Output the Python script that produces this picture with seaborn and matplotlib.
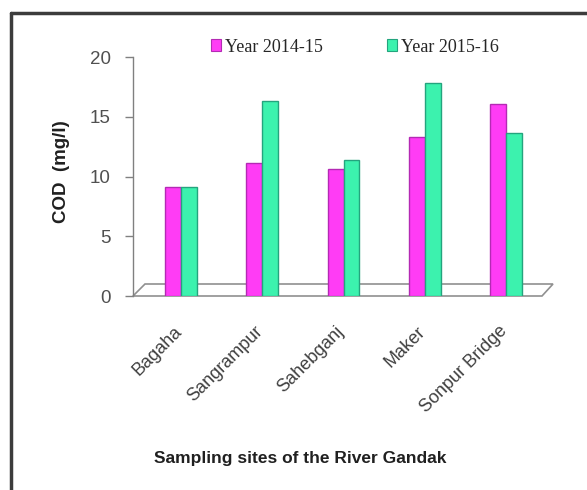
import matplotlib
matplotlib.use("Agg")
import matplotlib.pyplot as plt
import matplotlib.transforms as mtransforms
import seaborn as sns
import pandas as pd
from matplotlib.patches import Polygon
from matplotlib.lines import Line2D

sites = ["Bagaha", "Sangrampur", "Sahebganj", "Maker", "Sonpur Bridge"]
year_2014_15 = [9.1, 11.1, 10.6, 13.3, 16.1]
year_2015_16 = [9.1, 16.3, 11.4, 17.8, 13.6]
series_names = ["Year 2014-15", "Year 2015-16"]
y_ticks = [0, 5, 10, 15, 20]

df = pd.DataFrame({
    "site": sites * 2,
    "series": [series_names[0]] * len(sites) + [series_names[1]] * len(sites),
    "cod": year_2014_15 + year_2015_16,
})

sns.set_theme(style="white")
plt.rcParams["font.family"] = ["Liberation Sans", "DejaVu Sans"]

W, H = 587, 490
fig = plt.figure(figsize=(W / 100, H / 100), dpi=100)
ax_left, ax_right, ax_top, ax_bot = 133, 542, 57, 296
ax = fig.add_axes([ax_left / W, 1 - ax_bot / H, (ax_right - ax_left) / W, (ax_bot - ax_top) / H])

fills = {series_names[0]: "#FF3CF5", series_names[1]: "#3CF2AE"}
edges = {series_names[0]: "#B42AB4", series_names[1]: "#24A47E"}

sns.barplot(data=df, x="site", y="cod", hue="series", order=sites,
            hue_order=series_names, palette=fills, width=0.39, gap=0.0,
            saturation=1, ax=ax, legend=False, linewidth=1.0)

for i, cont in enumerate(ax.containers):
    for p in cont:
        p.set_edgecolor(edges[series_names[i]])
        p.set_linewidth(1.0)

ax.set_xlim(-0.59, 4.44)
ax.set_ylim(0, 20)
ax.set_yticks(y_ticks)
ax.set_yticklabels([str(t) for t in y_ticks], fontsize=13.5, color="#505050")
ax.tick_params(axis="y", direction="out", length=6, width=1, color="#808080", pad=10, left=True)
ax.tick_params(axis="x", length=0, pad=10)

for s in ["top", "right", "bottom"]:
    ax.spines[s].set_visible(False)
ax.spines["left"].set_color("#808080")
ax.spines["left"].set_linewidth(1.0)

# 3-D style floor
px = lambda x, y: ((x - ax_left) / (ax_right - ax_left), (ax_bot - y) / (ax_bot - ax_top))
floor = Polygon([px(133, 296), px(542, 296), px(553, 284), px(145, 284)], closed=True,
                facecolor="none", edgecolor="#909090", linewidth=1.2,
                transform=ax.transAxes, clip_on=False, zorder=0.5)
ax.add_patch(floor)

offset = mtransforms.ScaledTranslation(-8 / 100, -13 / 100, fig.dpi_scale_trans)
for lab in ax.get_xticklabels():
    lab.set_rotation(45)
    lab.set_ha("right")
    lab.set_rotation_mode("anchor")
    lab.set_fontsize(13)
    lab.set_color("#404040")
    lab.set_transform(lab.get_transform() + offset)

ax.set_xlabel("Sampling sites of the River Gandak", fontsize=12.5, fontweight="bold", color="#202020")
ax.xaxis.set_label_coords((300 - ax_left) / (ax_right - ax_left), (ax_bot - 451) / (ax_bot - ax_top))
ax.set_ylabel("COD  (mg/l)", fontsize=13.5, fontweight="bold", color="#202020")
ax.yaxis.set_label_coords((70 - ax_left) / (ax_right - ax_left), 0.52)

handles = [plt.Rectangle((0, 0), 1, 1, facecolor=fills[n], edgecolor=edges[n], linewidth=0.8)
           for n in series_names]
fig.legend(handles, series_names, loc="center left", bbox_to_anchor=(211 / W, 1 - 47 / H),
           ncol=2, frameon=False, handlelength=0.55, handleheight=0.6, handletextpad=0.2,
           columnspacing=3.6, borderaxespad=0, borderpad=0,
           prop={"family": "Liberation Serif", "size": 13})

# outer frame
fig.add_artist(Line2D([11 / W, 11 / W], [0, 1 - 13 / H], transform=fig.transFigure,
                      color="#3C3C3C", linewidth=2.5))
fig.add_artist(Line2D([11 / W, 1], [1 - 13 / H, 1 - 13 / H], transform=fig.transFigure,
                      color="#3C3C3C", linewidth=2.5))

fig.savefig("out.png", dpi=100)
